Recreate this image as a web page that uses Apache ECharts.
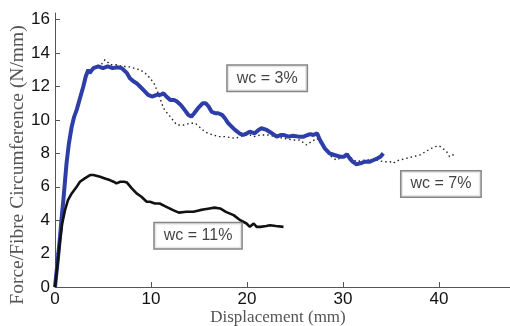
<!DOCTYPE html>
<html>
<head>
<meta charset="utf-8">
<script src="https://cdn.jsdelivr.net/npm/echarts@6/dist/echarts.min.js"></script>
<style>
  html, body { margin: 0; padding: 0; background: #fff; }
  #chart { width: 510px; height: 326px; }
</style>
</head>
<body>
<div id="chart"></div>
<script>
// Displacement (mm), force per fibre circumference (N/mm) for each water content
const wc3 = [
  [0, 0], [0.25, 1.4], [0.52, 3.0], [0.7, 4.2], [0.87, 5.2], [1.05, 6.4], [1.2, 7.4],
  [1.45, 8.6], [1.74, 9.6], [2.0, 10.2], [2.26, 10.6], [2.6, 11.3], [2.95, 12.0],
  [3.2, 12.6], [3.47, 13.0], [3.6, 12.8], [4.0, 13.1], [4.5, 13.2], [5.0, 13.1],
  [5.5, 13.2], [6.0, 13.1], [6.5, 13.15], [6.95, 13.1], [7.5, 12.8], [7.8, 12.5],
  [8.2, 12.3], [8.5, 12.2], [8.85, 12.0], [9.2, 11.8], [9.7, 11.5], [10.1, 11.4],
  [10.6, 11.5], [11.0, 11.5], [11.3, 11.6], [11.6, 11.4], [12.0, 11.2], [12.4, 11.2],
  [12.7, 11.1], [13.1, 10.9], [13.5, 10.6], [13.9, 10.3], [14.2, 10.2], [14.5, 10.4],
  [14.9, 10.7], [15.4, 11.0], [15.7, 11.0], [16.0, 10.8], [16.3, 10.5], [16.7, 10.4],
  [17.0, 10.4], [17.4, 10.3], [17.7, 10.1], [18.05, 9.8], [18.4, 9.6], [18.75, 9.4],
  [19.2, 9.2], [19.6, 9.1], [20.0, 9.2], [20.3, 9.3], [20.8, 9.2], [21.2, 9.4],
  [21.5, 9.5], [21.7, 9.55], [22.05, 9.4], [22.6, 9.2], [23.1, 9.0], [23.5, 9.1],
  [23.8, 9.1], [24.3, 9.0], [24.8, 9.05], [25.4, 9.0], [25.9, 9.0], [26.3, 9.1],
  [26.6, 9.15], [26.9, 9.1], [27.1, 9.0], [27.3, 9.2], [27.6, 8.8], [28.1, 8.3],
  [28.6, 8.0], [29.1, 7.9], [29.7, 7.8], [30.1, 7.8], [30.4, 7.95], [30.7, 7.7],
  [31.0, 7.5], [31.4, 7.35], [31.8, 7.4], [32.3, 7.5], [32.8, 7.5], [33.2, 7.6],
  [33.6, 7.7], [33.9, 7.8], [34.2, 8.0]
];
const wc7 = [
  [0, 0], [0.5, 2.9], [0.9, 5.3], [1.2, 7.3], [1.7, 9.5], [2.3, 10.7], [3.0, 12.1],
  [3.5, 12.9], [4.2, 13.2], [4.8, 13.3], [5.2, 13.6], [5.8, 13.3], [6.5, 13.3],
  [7.0, 13.2], [7.6, 13.2], [8.2, 13.1], [8.85, 13.0], [9.4, 12.8], [9.9, 12.5],
  [10.3, 12.2], [10.6, 11.8], [11.0, 11.2], [11.3, 10.7], [11.7, 10.4], [12.0, 10.2],
  [12.4, 9.9], [12.7, 9.7], [13.1, 9.7], [13.5, 9.7], [14.0, 9.8], [14.6, 9.8],
  [15.0, 9.6], [15.4, 9.4], [15.9, 9.2], [16.5, 9.1], [17.0, 9.0], [17.7, 9.0],
  [18.2, 8.95], [18.75, 8.9], [19.3, 9.0], [19.8, 9.1], [20.3, 9.1], [20.7, 9.0],
  [21.4, 9.1], [22.2, 9.1], [23.0, 9.0], [23.8, 8.9], [24.8, 8.8], [25.5, 8.8],
  [26.2, 8.5], [26.7, 8.7], [27.3, 8.9], [27.8, 8.5], [28.3, 8.1], [28.8, 7.8],
  [29.3, 7.6], [30.0, 7.8], [30.7, 7.8], [31.4, 7.5], [32.3, 7.6], [33.5, 7.6],
  [34.2, 7.5], [34.9, 7.5], [35.2, 7.4], [35.6, 7.55], [36.6, 7.7], [37.3, 7.8],
  [38.0, 7.9], [38.6, 8.1], [39.2, 8.3], [39.6, 8.4], [40.0, 8.45], [40.4, 8.3],
  [40.8, 8.1], [41.1, 7.8], [41.4, 7.9], [41.8, 7.9]
];
const wc11 = [
  [0, 0], [0.25, 1.3], [0.52, 2.8], [0.75, 3.8], [1.04, 4.6], [1.35, 5.2], [1.74, 5.6],
  [2.2, 5.95], [2.6, 6.3], [3.1, 6.5], [3.65, 6.7], [4.0, 6.7], [4.7, 6.6], [5.2, 6.5],
  [5.7, 6.4], [6.1, 6.3], [6.4, 6.2], [6.8, 6.3], [7.2, 6.3], [7.5, 6.25], [8.0, 5.9],
  [8.5, 5.6], [9.0, 5.4], [9.55, 5.1], [9.9, 5.1], [10.4, 5.0], [10.9, 5.0], [11.6, 4.8],
  [12.3, 4.6], [12.9, 4.45], [13.7, 4.5], [14.4, 4.5], [15.1, 4.6], [15.6, 4.65],
  [16.1, 4.7], [16.6, 4.75], [17.2, 4.7], [17.8, 4.5], [18.6, 4.3], [19.3, 4.0],
  [19.95, 3.8], [20.3, 3.6], [20.7, 3.8], [21.0, 3.6], [21.4, 3.6], [22.0, 3.65],
  [22.4, 3.7], [23.0, 3.65], [23.8, 3.6]
];

// Annotation boxes: [displacement, force, text]
const annotations = [
  [22.1, 12.5, 'wc = 3%'],
  [40.2, 6.16, 'wc = 7%'],
  [14.9, 3.07, 'wc = 11%']
];

const xTicks = [0, 10, 20, 30, 40];
const yTicks = [0, 2, 4, 6, 8, 10, 12, 14, 16];

const chart = echarts.init(document.getElementById('chart'), null, { renderer: 'canvas' });

const tickLabelStyle = {
  fontFamily: '"Liberation Sans", Arial, sans-serif',
  fontSize: 17,
  color: '#111'
};
const titleStyle = {
  fontFamily: '"Liberation Serif", "Times New Roman", serif',
  color: '#555'
};

chart.setOption({
  animation: false,
  backgroundColor: '#fff',
  grid: { left: 55, right: -25, top: 13, bottom: 39, outerBoundsMode: 'none', containLabel: false },
  xAxis: {
    type: 'value',
    min: 0,
    max: 50,
    interval: 10,
    name: 'Displacement (mm)',
    nameLocation: 'middle',
    nameGap: 22,
    nameMoveOverlap: false,
    nameTextStyle: Object.assign({ fontSize: 17, padding: [0, 34, 0, 0] }, titleStyle),
    splitLine: { show: false },
    axisLine: { show: true, onZero: false, lineStyle: { color: '#555', width: 1 } },
    axisTick: { show: true, inside: true, length: 5, customValues: xTicks, lineStyle: { color: '#555' } },
    axisLabel: Object.assign({ margin: 4, customValues: xTicks }, tickLabelStyle)
  },
  yAxis: {
    type: 'value',
    min: 0,
    max: 16.4,
    name: 'Force/Fibre Circumference (N/mm)',
    nameLocation: 'middle',
    nameGap: 27,
    nameMoveOverlap: false,
    nameTextStyle: Object.assign({ fontSize: 19.5, padding: [0, 30, 0, 0] }, titleStyle),
    splitLine: { show: false },
    axisLine: { show: true, onZero: false, lineStyle: { color: '#555', width: 1 } },
    axisTick: { show: true, inside: true, length: 5, customValues: yTicks, lineStyle: { color: '#555' } },
    axisLabel: Object.assign({ margin: 5, customValues: yTicks }, tickLabelStyle)
  },
  series: [
    {
      name: 'wc = 7%',
      type: 'line',
      data: wc7,
      showSymbol: false,
      lineStyle: { color: '#222', width: 1.4, type: [1.5, 3] },
      z: 2
    },
    {
      name: 'wc = 3%',
      type: 'line',
      data: wc3,
      showSymbol: false,
      lineStyle: { color: '#2d3ea8', width: 4 },
      z: 3
    },
    {
      name: 'wc = 11%',
      type: 'line',
      data: wc11,
      showSymbol: false,
      lineStyle: { color: '#111', width: 2.6 },
      z: 3
    },
    {
      name: 'labels',
      type: 'scatter',
      symbolSize: 0,
      data: annotations.map(a => ({ value: [a[0], a[1]], name: a[2] })),
      label: {
        show: true,
        position: 'inside',
        formatter: '{b}',
        fontFamily: '"Liberation Sans", Arial, sans-serif',
        fontSize: 16,
        color: '#111',
        backgroundColor: '#fff',
        borderColor: '#666',
        borderWidth: 1.5,
        padding: [5, 9, 4, 9]
      },
      z: 5
    }
  ]
});
</script>
</body>
</html>
